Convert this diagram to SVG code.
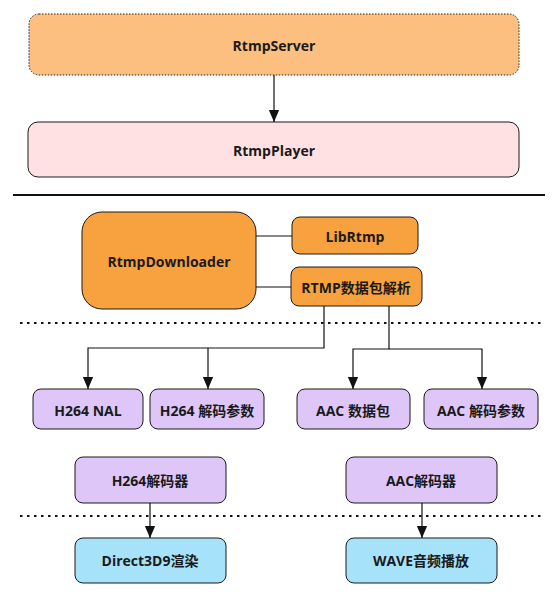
<svg xmlns="http://www.w3.org/2000/svg" width="559" height="599" viewBox="0 0 559 599">
<defs>
<style>
.t{font-family:"Open Sans","Noto Sans CJK SC",sans-serif;font-weight:bold;font-size:14px;fill:#1a1a1a;text-anchor:middle;dominant-baseline:central}
.b{stroke:#1a1a1a;stroke-width:1}
.c{fill:none;stroke:#111;stroke-width:1.2}
.sep{fill:none;stroke:#111;stroke-width:2;stroke-dasharray:2.5 4.5}
.or{fill:#F8A23F}
.pu{fill:#DFC6F8}
.bl{fill:#A6E2FA}
</style>
<marker id="arr" markerWidth="12" markerHeight="14" refX="14" refY="6" orient="auto" markerUnits="userSpaceOnUse" viewBox="0 0 14 12">
<path d="M0,0 L14,6 L0,12 Z" fill="#111"/>
</marker>
</defs>

<g id="separators">
<line x1="13" y1="195" x2="545" y2="195" stroke="#111" stroke-width="2"/>
<line class="sep" x1="20" y1="323" x2="545" y2="323"/>
<line class="sep" x1="20" y1="516" x2="545" y2="516"/>
</g>

<g id="RtmpServer">
<rect x="29" y="14" width="490" height="61" rx="10" fill="#FCBF80" stroke="#222" stroke-width="1" stroke-dasharray="1.5 1.5"/>
<text class="t" x="274" y="45">RtmpServer</text>
</g>
<g id="RtmpPlayer">
<rect x="28" y="122" width="491" height="55" rx="10" fill="#FFE1E4" class="b"/>
<text class="t" x="274" y="150">RtmpPlayer</text>
</g>
<g id="RtmpDownloader">
<rect x="82" y="212" width="174" height="97" rx="20" class="or b"/>
<text class="t" x="169" y="261">RtmpDownloader</text>
</g>
<g id="LibRtmp">
<rect x="292" y="217" width="126" height="37" rx="8" class="or b"/>
<text class="t" x="355" y="236">LibRtmp</text>
</g>
<g id="RtmpParser">
<rect x="291" y="267" width="131" height="39" rx="8" class="or b"/>
<text class="t" x="356" y="287">RTMP数据包解析</text>
</g>
<g id="H264NAL">
<rect x="33" y="389" width="110" height="40" rx="8" class="pu b"/>
<text class="t" x="88" y="410">H264 NAL</text>
</g>
<g id="H264Params">
<rect x="150" y="389" width="114" height="40" rx="8" class="pu b"/>
<text class="t" x="207" y="410">H264 解码参数</text>
</g>
<g id="AACPacket">
<rect x="297" y="389" width="113" height="40" rx="8" class="pu b"/>
<text class="t" x="353" y="410">AAC 数据包</text>
</g>
<g id="AACParams">
<rect x="424" y="389" width="114" height="40" rx="8" class="pu b"/>
<text class="t" x="481" y="410">AAC 解码参数</text>
</g>
<g id="H264Decoder">
<rect x="75" y="457" width="151" height="46" rx="8" class="pu b"/>
<text class="t" x="150" y="480">H264解码器</text>
</g>
<g id="AACDecoder">
<rect x="346" y="457" width="151" height="46" rx="8" class="pu b"/>
<text class="t" x="421" y="480">AAC解码器</text>
</g>
<g id="Direct3D9">
<rect x="75" y="538" width="151" height="45" rx="8" class="bl b"/>
<text class="t" x="150" y="560">Direct3D9渲染</text>
</g>
<g id="WavePlay">
<rect x="346" y="538" width="151" height="45" rx="8" class="bl b"/>
<text class="t" x="421" y="560">WAVE音频播放</text>
</g>

<g id="connectors">
<path class="c" d="M274,75 V122" marker-end="url(#arr)"/>
<path class="c" d="M256,236 H292"/>
<path class="c" d="M256,287 H291"/>
<path class="c" d="M324,306 V348 H88 V389" marker-end="url(#arr)"/>
<path class="c" d="M208,348 V389" marker-end="url(#arr)"/>
<path class="c" d="M389,306 V349 H353 V389" marker-end="url(#arr)"/>
<path class="c" d="M389,349 H482 V389" marker-end="url(#arr)"/>
<path class="c" d="M150,503 V538" marker-end="url(#arr)"/>
<path class="c" d="M422,503 V538" marker-end="url(#arr)"/>
</g>
</svg>
